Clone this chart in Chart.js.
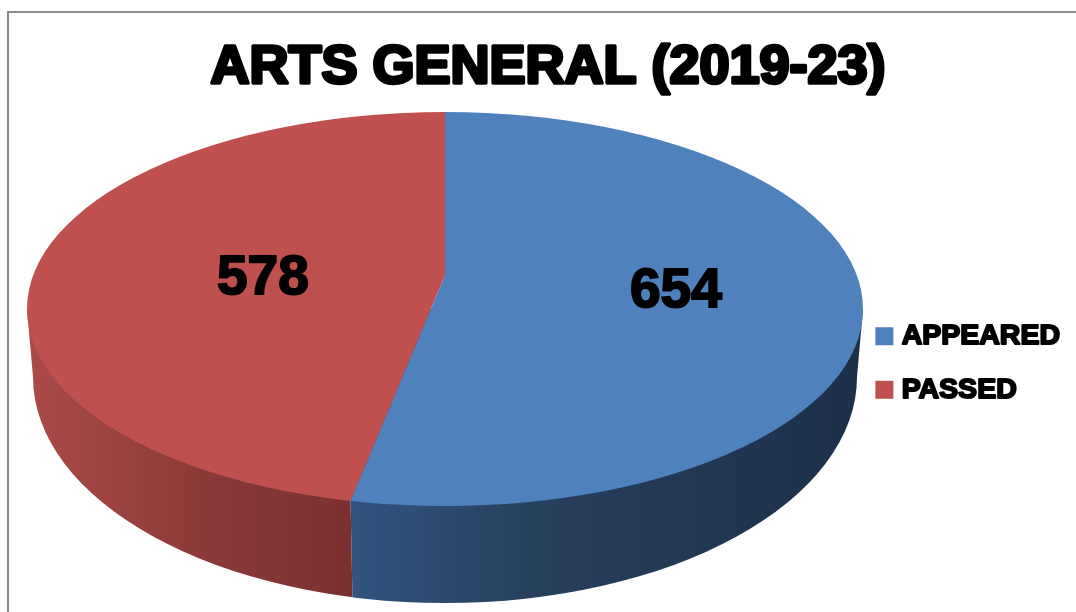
<!DOCTYPE html>
<html>
<head>
<meta charset="utf-8">
<title>Arts General</title>
<script src="https://cdn.jsdelivr.net/npm/chart.js@4/dist/chart.umd.min.js"></script>
<style>
    html, body { margin: 0; padding: 0; background: #fff; overflow: hidden; }
    #wrap { position: relative; width: 1076px; height: 612px; }
    #frame { position: absolute; left: 7px; top: 11px; right: 0; bottom: 0; border-left: 2px solid #8a8a8a; border-top: 2px solid #8a8a8a; }
    canvas { position: absolute; left: 0; top: 0; }
</style>
</head>
<body>
<div id="wrap">
    <div id="frame"></div>
    <canvas id="pie-chart" width="1076" height="612"></canvas>
</div>
<script>
    "use strict";

    const categories = ["APPEARED", "PASSED"];
    const seriesValues = [654, 578];
    const sliceColors = ["#4f81bd", "#c0504d"];
    const chartTitle = "ARTS GENERAL (2019-23)";

    // look of the tilted pie: top face, lower rim and the point the slices meet at
    const top3d = { x: 445, y: 309, rx: 418, ry: 197 };
    const rim3d = { x: 445, y: 377, rx: 412, ry: 226 };
    const apex = { x: 445, y: 275 };
    const squash = 2.13;
    const wallStops = [
        [[0, "#ab4b48"], [0.55, "#8b3a38"], [1, "#7b3130"]],
        [[0, "#31557f"], [0.35, "#27405e"], [1, "#1c3048"]]
    ];
    const labelRadius = [232, 183];
    const labelNudge = [6, 12];
    const legendFontSize = 28.5;

    function dividerX(angle) {
        // where a slice edge leaves the apex and meets the top ellipse
        const dx = Math.cos(angle), dy = Math.sin(angle) / squash;
        const ox = apex.x - top3d.x, oy = apex.y - top3d.y;
        const a = dx * dx / (top3d.rx * top3d.rx) + dy * dy / (top3d.ry * top3d.ry);
        const b = 2 * (ox * dx / (top3d.rx * top3d.rx) + oy * dy / (top3d.ry * top3d.ry));
        const c = ox * ox / (top3d.rx * top3d.rx) + oy * oy / (top3d.ry * top3d.ry) - 1;
        const t = (-b + Math.sqrt(b * b - 4 * a * c)) / (2 * a);
        return apex.x + t * dx;
    }

    function drawWall(ctx, x0, x1, xTop, xBottom, stops, isRight) {
        ctx.save();
        ctx.beginPath();
        ctx.moveTo(xTop, 0);
        ctx.lineTo(xTop, top3d.y + top3d.ry - 4);
        ctx.lineTo(xBottom, rim3d.y + rim3d.ry);
        ctx.lineTo(xBottom, 612);
        ctx.lineTo(isRight ? 1076 : 0, 612);
        ctx.lineTo(isRight ? 1076 : 0, 0);
        ctx.closePath();
        ctx.clip();

        const grad = ctx.createLinearGradient(x0, 0, x1, 0);
        stops.forEach(s => grad.addColorStop(s[0], s[1]));
        ctx.fillStyle = grad;
        ctx.beginPath();
        ctx.moveTo(top3d.x - top3d.rx, top3d.y);
        ctx.lineTo(rim3d.x - rim3d.rx, rim3d.y);
        ctx.ellipse(rim3d.x, rim3d.y, rim3d.rx, rim3d.ry, 0, Math.PI, 0, true);
        ctx.lineTo(top3d.x + top3d.rx, top3d.y);
        ctx.closePath();
        ctx.fill();
        ctx.restore();
    }

    const tiltedPie = {
        id: "tiltedPie",
        beforeDatasetsDraw(chart) {
            const ctx = chart.ctx;
            const arcs = chart.getDatasetMeta(0).data;
            const xDiv = dividerX(arcs[0].endAngle);

            drawWall(ctx, xDiv, top3d.x + top3d.rx, xDiv, xDiv + 2, wallStops[1], true);
            drawWall(ctx, top3d.x - top3d.rx, xDiv, xDiv, xDiv + 2, wallStops[0], false);

            ctx.save();
            ctx.beginPath();
            ctx.ellipse(top3d.x, top3d.y, top3d.rx, top3d.ry, 0, 0, Math.PI * 2);
            ctx.clip();
            const sx = 540 / arcs[0].outerRadius;
            ctx.translate(apex.x, apex.y);
            ctx.scale(sx, sx / squash);
            ctx.translate(-arcs[0].x, -arcs[0].y);
        },
        afterDatasetsDraw(chart) {
            const ctx = chart.ctx;
            ctx.restore();

            ctx.save();
            ctx.font = "bold 55px 'Liberation Sans'";
            ctx.textAlign = "center";
            ctx.textBaseline = "middle";
            ctx.fillStyle = "#000";
            ctx.strokeStyle = "#000";
            ctx.lineWidth = 2;
            chart.getDatasetMeta(0).data.forEach((arc, i) => {
                const mid = (arc.startAngle + arc.endAngle) / 2;
                const x = apex.x + labelRadius[i] * Math.cos(mid);
                const y = apex.y + labelRadius[i] * Math.sin(mid) / squash + labelNudge[i];
                ctx.fillText(seriesValues[i], x, y);
                ctx.strokeText(seriesValues[i], x, y);
            });
            ctx.restore();
        },
        afterDraw(chart) {
            // Chart.js has no text outline, go over the title and legend once more
            const ctx = chart.ctx;
            const title = chart.titleBlock;
            const titleOpts = title.options;
            ctx.save();
            ctx.strokeStyle = "#000";
            ctx.lineJoin = "round";
            ctx.textAlign = "center";
            ctx.textBaseline = "middle";
            ctx.font = "bold 54px 'Liberation Sans'";
            ctx.lineWidth = 3.5;
            ctx.strokeText(chartTitle, (title.left + title.right) / 2, title.top + titleOpts.padding.top + 27);

            const legend = chart.legend;
            const labelOpts = legend.options.labels;
            ctx.textAlign = "left";
            ctx.font = "bold " + legendFontSize + "px 'Liberation Sans'";
            ctx.lineWidth = 2;
            legend.legendItems.forEach((item, i) => {
                const box = legend.legendHitBoxes[i];
                ctx.strokeText(item.text, box.left + labelOpts.boxWidth + legendFontSize / 2, box.top + legendFontSize / 2);
            });
            ctx.restore();
        }
    };

    new Chart(document.getElementById("pie-chart").getContext("2d"), {
        type: "pie",
        data: {
            labels: categories,
            datasets: [{
                data: seriesValues,
                backgroundColor: sliceColors,
                borderWidth: 0,
                clip: false
            }]
        },
        options: {
            responsive: false,
            animation: false,
            events: [],
            layout: { padding: { left: 26, right: 6, top: 0, bottom: 183 } },
            plugins: {
                title: {
                    display: true,
                    text: chartTitle,
                    color: "#000",
                    font: { family: "'Liberation Sans'", size: 54, weight: "bold", lineHeight: 1 },
                    padding: { top: 41, bottom: 10 }
                },
                legend: {
                    position: "right",
                    align: "end",
                    labels: {
                        color: "#000",
                        font: { family: "'Liberation Sans'", size: legendFontSize, weight: "bold" },
                        boxWidth: 6,
                        boxHeight: 6,
                        padding: 25,
                        generateLabels(chart) {
                            // thick box border so the gap to the text stays small
                            return Chart.overrides.pie.plugins.legend.labels.generateLabels(chart)
                                .map(item => ({ ...item, lineWidth: 12, strokeStyle: item.fillStyle, fontColor: "#000" }));
                        }
                    }
                },
                tooltip: { enabled: false }
            }
        },
        plugins: [tiltedPie]
    });
</script>
</body>
</html>
